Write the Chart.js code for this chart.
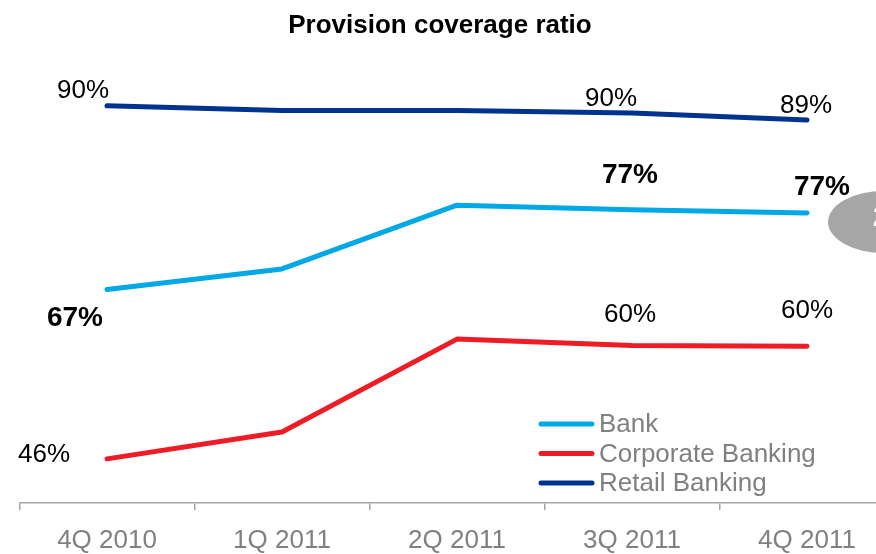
<!DOCTYPE html>
<html>
<head>
<meta charset="utf-8">
<script src="https://cdn.jsdelivr.net/npm/chart.js@4"></script>
<style>
  html, body { margin: 0; padding: 0; background: #fff; overflow: hidden; }
  #wrap { position: relative; width: 900px; height: 572px; }
</style>
</head>
<body>
<div id="wrap"><canvas id="coverage"></canvas></div>
<script>
const quarters = ['4Q 2010', '1Q 2011', '2Q 2011', '3Q 2011', '4Q 2011'];
const bank = [67.1, 69.7, 77.8, 77.2, 76.8];
const corporate = [45.6, 49.0, 60.8, 60.0, 59.9];
const retail = [90.4, 89.8, 89.8, 89.5, 88.6];

const FONT = "'Liberation Sans', Arial, sans-serif";
const GREY = '#808080';

// which points carry a value label, and where the text sits relative to the point
const labelSpots = {
  'Bank': { bold: true, spots: [[0, -32, 29], [3, -2, -35], [4, 15, -26]] },
  'Corporate Banking': { bold: false, spots: [[0, -63, -4], [3, -2, -31], [4, 0, -35]] },
  'Retail Banking': { bold: false, spots: [[0, -24, -15], [3, -21, -14], [4, -1, -14]] }
};

const valueLabels = {
  id: 'valueLabels',
  afterDatasetsDraw(chart) {
    const ctx = chart.ctx;
    ctx.save();
    ctx.textAlign = 'center';
    ctx.textBaseline = 'middle';
    ctx.fillStyle = '#000';
    chart.data.datasets.forEach((ds, i) => {
      const cfg = labelSpots[ds.label];
      if (!cfg) return;
      const pts = chart.getDatasetMeta(i).data;
      ctx.font = (cfg.bold ? 'bold 28px ' : '26px ') + FONT;
      cfg.spots.forEach(([idx, dx, dy]) => {
        const p = pts[idx];
        ctx.fillText(Math.round(ds.data[idx]) + '%', p.x + dx, p.y + dy);
      });
    });
    ctx.restore();
  }
};

// title is drawn by hand so it centres on the visible page, not the wider canvas
const pageTitle = {
  id: 'pageTitle',
  afterDraw(chart) {
    const ctx = chart.ctx;
    ctx.save();
    ctx.font = 'bold 26px ' + FONT;
    ctx.fillStyle = '#000';
    ctx.textAlign = 'center';
    ctx.textBaseline = 'alphabetic';
    ctx.fillText('Provision coverage ratio', 440, 33);
    ctx.restore();
  }
};

// legend sits inside the plot, bottom right
const innerLegend = {
  id: 'innerLegend',
  afterDraw(chart) {
    const ctx = chart.ctx;
    ctx.save();
    ctx.font = '26px ' + FONT;
    ctx.textBaseline = 'middle';
    chart.data.datasets.forEach((ds, i) => {
      const y = 424 + i * 29.5;
      ctx.strokeStyle = ds.borderColor;
      ctx.lineWidth = 5;
      ctx.lineCap = 'round';
      ctx.beginPath();
      ctx.moveTo(541, y);
      ctx.lineTo(592, y);
      ctx.stroke();
      ctx.fillStyle = GREY;
      ctx.fillText(ds.label, 599, y + 1);
    });
    ctx.restore();
  }
};

// grey page badge peeking in at the right edge
const badge = {
  id: 'badge',
  afterDraw(chart) {
    const ctx = chart.ctx;
    ctx.save();
    ctx.fillStyle = '#a6a6a6';
    ctx.beginPath();
    ctx.ellipse(884, 222, 56, 31, 0, 0, Math.PI * 2);
    ctx.fill();
    ctx.fillStyle = '#fff';
    ctx.font = 'bold 30px ' + FONT;
    ctx.textAlign = 'center';
    ctx.textBaseline = 'middle';
    ctx.fillText('2', 881, 218);
    ctx.restore();
  }
};

new Chart(document.getElementById('coverage'), {
  type: 'line',
  data: {
    labels: quarters,
    datasets: [
      { label: 'Bank', data: bank, borderColor: '#00a9e6' },
      { label: 'Corporate Banking', data: corporate, borderColor: '#ee1c25' },
      { label: 'Retail Banking', data: retail, borderColor: '#00338d' }
    ]
  },
  options: {
    responsive: true,
    maintainAspectRatio: false,
    animation: false,
    layout: { padding: { left: 19.5, right: 5.5, top: 69.6, bottom: 0 } },
    elements: {
      line: { borderWidth: 5, tension: 0, borderCapStyle: 'round', borderJoinStyle: 'round', fill: false },
      point: { radius: 0, hoverRadius: 0 }
    },
    plugins: {
      legend: { display: false },
      tooltip: { enabled: false },
      title: { display: false }
    },
    scales: {
      x: {
        offset: true,
        grid: {
          display: true,
          offset: true,
          drawOnChartArea: false,
          drawTicks: true,
          tickLength: 7,
          color: '#a6a6a6',
          lineWidth: 1.5
        },
        border: { display: true, color: '#a6a6a6', width: 1.5 },
        ticks: {
          color: GREY,
          font: { family: FONT, size: 26, lineHeight: 1 },
          padding: 18,
          maxRotation: 0,
          autoSkip: false
        }
      },
      y: { display: false, min: 40, max: 95 }
    }
  },
  plugins: [valueLabels, pageTitle, innerLegend, badge]
});
</script>
</body>
</html>
